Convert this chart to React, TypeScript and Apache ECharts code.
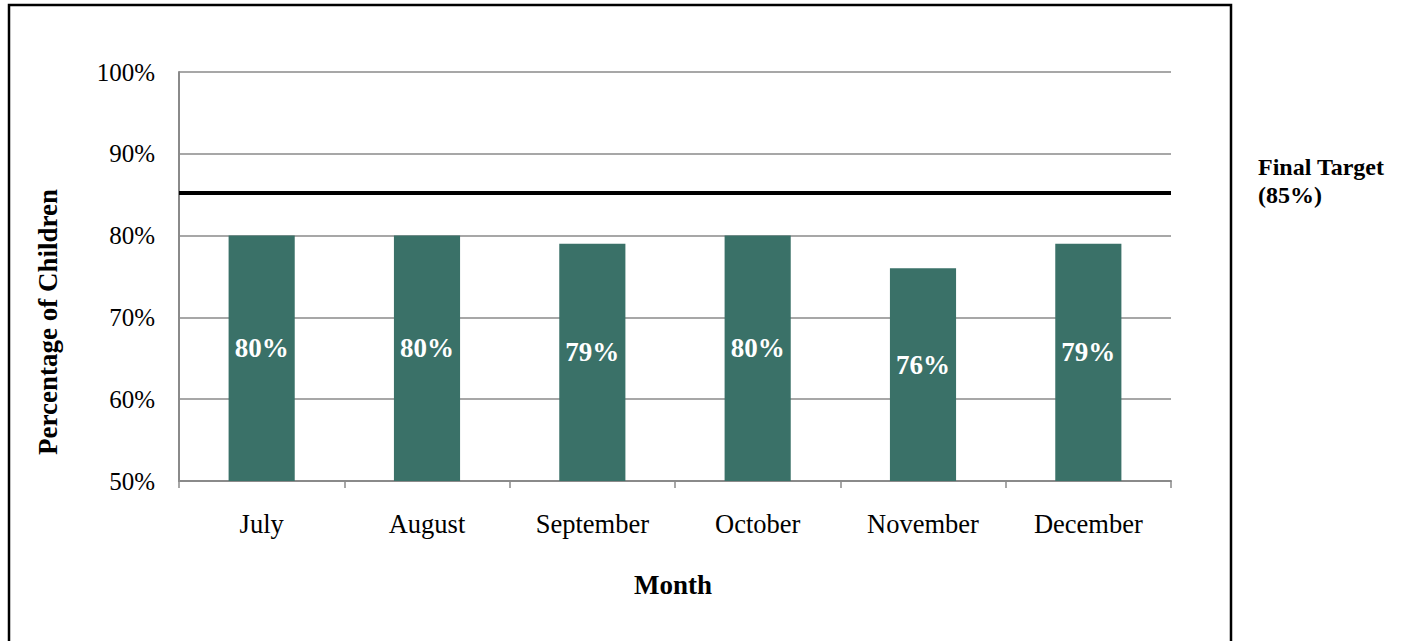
import React, { useEffect, useRef } from "react";
import * as echarts from "echarts";

const months = ["July", "August", "September", "October", "November", "December"];
const percentages = [80, 80, 79, 80, 76, 79];
const targetValue = 85.2;
const targetLabel = ["Final Target", "(85%)"];
const yTicks = { min: 50, max: 100, interval: 10 };

const FONT = "'Liberation Serif', 'Times New Roman', serif";

export default function App() {
  const ref = useRef<HTMLDivElement>(null);
  useEffect(() => {
    document.body.style.margin = "0";
    const chart = echarts.init(ref.current!, null, { renderer: "svg" });
    chart.setOption({
      animation: false,
      backgroundColor: "#ffffff",
      textStyle: { fontFamily: FONT },
      grid: { left: 179, right: 230, top: 72, bottom: 160, containLabel: false },
      xAxis: {
        type: "category",
        data: months,
        boundaryGap: true,
        axisLine: { lineStyle: { color: "#8a8a8a", width: 2 } },
        axisTick: { show: true, alignWithLabel: false, length: 7, lineStyle: { color: "#8a8a8a", width: 1.5 } },
        axisLabel: { color: "#000", fontFamily: FONT, fontSize: 26.5, margin: 29 },
      },
      yAxis: {
        type: "value",
        min: yTicks.min,
        max: yTicks.max,
        interval: yTicks.interval,
        axisLine: { show: true, lineStyle: { color: "#8a8a8a", width: 2 } },
        axisTick: { show: false },
        splitLine: { lineStyle: { color: "#8a8a8a", width: 1.5 } },
        axisLabel: { color: "#000", fontFamily: FONT, fontSize: 25, margin: 24, formatter: "{value}%" },
      },
      series: [
        {
          type: "bar",
          data: percentages,
          barWidth: "40%",
          itemStyle: { color: "#3A7168" },
          label: {
            show: true,
            position: "inside",
            offset: [0, -10],
            color: "#ffffff",
            fontFamily: FONT,
            fontWeight: "bold",
            fontSize: 27,
            formatter: "{c}%",
          },
          markLine: {
            silent: true,
            symbol: ["none", "none"],
            label: { show: false },
            lineStyle: { color: "#000000", width: 4, type: "solid" },
            data: [{ yAxis: targetValue }],
          },
        },
      ],
      graphic: [
        {
          type: "rect",
          shape: { x: 9, y: 5, width: 1222, height: 660 },
          style: { fill: "none", stroke: "#000000", lineWidth: 2.5 },
          silent: true,
          z: 100,
        },
        {
          type: "text",
          x: 48,
          y: 322,
          rotation: Math.PI / 2,
          style: {
            text: "Percentage of Children",
            fontFamily: FONT,
            fontWeight: "bold",
            fontSize: 27,
            fill: "#000",
            align: "center",
            verticalAlign: "middle",
          },
        },
        {
          type: "text",
          x: 673,
          y: 585,
          style: {
            text: "Month",
            fontFamily: FONT,
            fontWeight: "bold",
            fontSize: 27,
            fill: "#000",
            align: "center",
            verticalAlign: "middle",
          },
        },
        {
          type: "text",
          x: 1258,
          y: 153,
          style: {
            text: targetLabel.join("\n"),
            fontFamily: FONT,
            fontWeight: "bold",
            fontSize: 24,
            lineHeight: 28,
            fill: "#000",
            align: "left",
            verticalAlign: "top",
          },
        },
      ],
    });
    return () => chart.dispose();
  }, []);
  return <div ref={ref} style={{ width: 1401, height: 641 }} />;
}
